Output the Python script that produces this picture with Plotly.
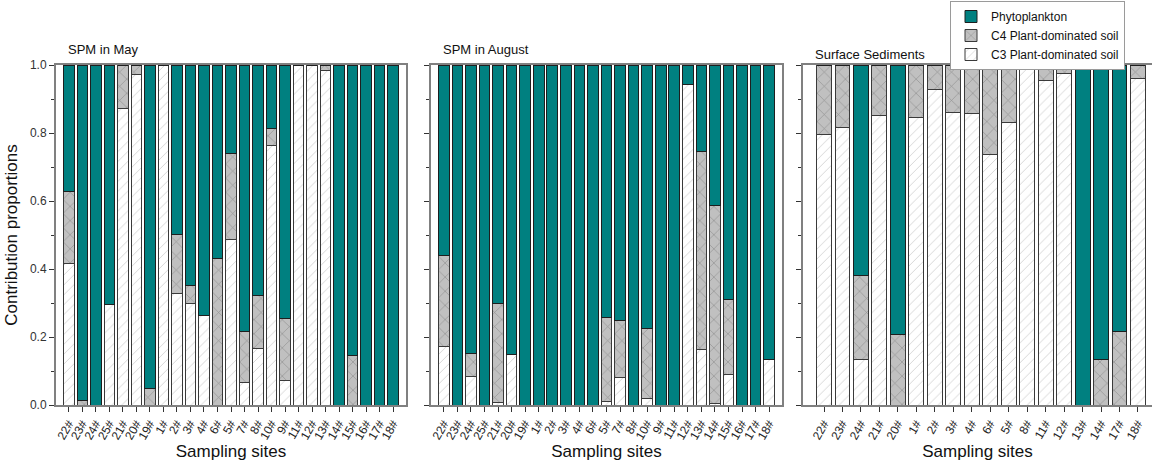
import plotly.graph_objects as go

# sampling sites per panel
sites_spm = ["22#", "23#", "24#", "25#", "21#", "20#", "19#", "1#", "2#", "3#", "4#", "6#", "5#",
             "7#", "8#", "10#", "9#", "11#", "12#", "13#", "14#", "15#", "16#", "17#", "18#"]
sites_sed = ["22#", "23#", "24#", "21#", "20#", "1#", "2#", "3#", "4#", "6#", "5#", "8#",
             "11#", "12#", "13#", "14#", "17#", "18#"]

# SPM in May
may_c3 = [0.417, 0.0, 0.0, 0.297, 0.872, 0.971, 0.0, 1.0, 0.329, 0.299, 0.264, 0.0, 0.488,
          0.067, 0.167, 0.762, 0.071, 1.0, 1.0, 0.984, 0.0, 0.0, 0.0, 0.0, 0.0]
may_c4 = [0.211, 0.014, 0.0, 0.0, 0.128, 0.029, 0.049, 0.0, 0.173, 0.053, 0.0, 0.432, 0.253,
          0.149, 0.155, 0.050, 0.184, 0.0, 0.0, 0.016, 0.0, 0.145, 0.0, 0.0, 0.0]

# SPM in August
aug_c3 = [0.172, 0.0, 0.085, 0.0, 0.008, 0.148, 0.0, 0.0, 0.0, 0.0, 0.0, 0.0, 0.009,
          0.081, 0.0, 0.020, 0.0, 0.0, 0.944, 0.162, 0.005, 0.090, 0.0, 0.0, 0.135]
aug_c4 = [0.268, 0.0, 0.067, 0.0, 0.291, 0.0, 0.0, 0.0, 0.0, 0.0, 0.0, 0.0, 0.249,
          0.168, 0.0, 0.204, 0.0, 0.0, 0.0, 0.583, 0.583, 0.221, 0.0, 0.0, 0.0]

# Surface sediments
sed_c3 = [0.797, 0.816, 0.135, 0.851, 0.0, 0.846, 0.928, 0.860, 0.858, 0.736, 0.832, 1.0,
          0.953, 0.975, 0.0, 0.0, 0.0, 0.961]
sed_c4 = [0.203, 0.184, 0.246, 0.149, 0.208, 0.154, 0.072, 0.140, 0.142, 0.264, 0.168, 0.0,
          0.047, 0.025, 0.0, 0.133, 0.217, 0.039]

panels = [
    ("SPM in May", sites_spm, may_c3, may_c4),
    ("SPM in August", sites_spm, aug_c3, aug_c4),
    ("Surface Sediments", sites_sed, sed_c3, sed_c4),
]

W, H = 1152, 468
FONT = "Arial, Liberation Sans, sans-serif"
TEAL = "#008080"


def px_x(p):
    return p / W


def px_y(p):
    return 1 - p / H


x_dom = [(56, 406), (431, 782), (803, 1152)]
y_dom = [px_y(405), px_y(65)]
x_rng = [(-0.95, 24.95), (-0.95, 24.95), (-1.14, 17.76)]
title_x = [66, 441, 813]

fig = go.Figure()

for i, (name, sites, c3, c4) in enumerate(panels):
    phyto = [max(0.0, round(1 - a - b, 3)) for a, b in zip(c3, c4)]
    xa = "x" if i == 0 else f"x{i+1}"
    ya = "y" if i == 0 else f"y{i+1}"
    w = 0.79 if i < 2 else 0.81
    fig.add_trace(go.Bar(
        x=sites, y=c3, xaxis=xa, yaxis=ya, width=w,
        name="C3 Plant-dominated soil", legendrank=3, showlegend=(i == 0),
        marker=dict(color="white", line=dict(color="#3a3a3a", width=1),
                    pattern=dict(shape="/", fgcolor="#a0a0a0", bgcolor="white", size=7, solidity=0.12)),
    ))
    fig.add_trace(go.Bar(
        x=sites, y=c4, xaxis=xa, yaxis=ya, width=w,
        name="C4 Plant-dominated soil", legendrank=2, showlegend=(i == 0),
        marker=dict(color="#c0c0c0", line=dict(color="#3a3a3a", width=1),
                    pattern=dict(shape="x", fgcolor="#5a5a5a", bgcolor="#c0c0c0", size=10, solidity=0.12)),
    ))
    fig.add_trace(go.Bar(
        x=sites, y=phyto, xaxis=xa, yaxis=ya, width=w,
        name="Phytoplankton", legendrank=1, showlegend=(i == 0),
        marker=dict(color=TEAL, line=dict(color="#1e1e1e", width=1)),
    ))

    x0, x1 = x_dom[i]
    fig.update_layout({
        ("xaxis" if i == 0 else f"xaxis{i+1}"): dict(
            domain=[px_x(x0), min(1.0, px_x(x1))], anchor=ya, range=list(x_rng[i]),
            tickmode="array", tickvals=sites, ticktext=sites,
            showline=True, linecolor="#808080", linewidth=2, mirror=True,
            ticks="outside", ticklen=5, tickcolor="#333", tickwidth=1,
            tickangle=-60, tickfont=dict(size=12, color="#222", family=FONT),
            title=dict(text="Sampling sites", font=dict(size=17, color="#111", family=FONT), standoff=4),
            showgrid=False, zeroline=False, automargin=False,
        ),
        ("yaxis" if i == 0 else f"yaxis{i+1}"): dict(
            domain=y_dom, anchor=xa, range=[0, 1.0],
            showline=True, linecolor="#808080", linewidth=2, mirror=True,
            ticks="outside", ticklen=5, tickcolor="#333", tickwidth=1,
            dtick=0.2, tickformat=".1f", showticklabels=(i == 0),
            tickfont=dict(size=12, color="#333", family=FONT),
            minor=dict(dtick=0.1, ticks="outside", ticklen=3, tickcolor="#333"),
            title=dict(text="Contribution proportions" if i == 0 else "",
                       font=dict(size=17, color="#111", family=FONT), standoff=8),
            showgrid=False, zeroline=False, automargin=False,
        ),
    })
    fig.add_annotation(
        text=name, xref="paper", yref="paper",
        x=px_x(title_x[i]), y=px_y(50 if i < 2 else 54),
        xanchor="left", yanchor="middle", showarrow=False,
        font=dict(size=13, color="#111", family=FONT),
    )

fig.update_layout(
    width=W, height=H,
    barmode="stack",
    margin=dict(l=0, r=0, t=0, b=0),
    paper_bgcolor="white",
    plot_bgcolor="white",
    font=dict(family=FONT),
    legend=dict(
        x=px_x(950), y=px_y(1), xanchor="left", yanchor="top",
        traceorder="normal",
        bordercolor="#9a9a9a", borderwidth=1, bgcolor="white",
        font=dict(size=12, color="#111", family=FONT),
        tracegroupgap=0, itemwidth=30,
    ),
)

# drop the default page margin so the figure sits at the window origin
fig.write_html(
    "out.html",
    config={"displayModeBar": False},
    post_script="document.body.style.margin='0';document.documentElement.style.overflow='hidden';",
)
